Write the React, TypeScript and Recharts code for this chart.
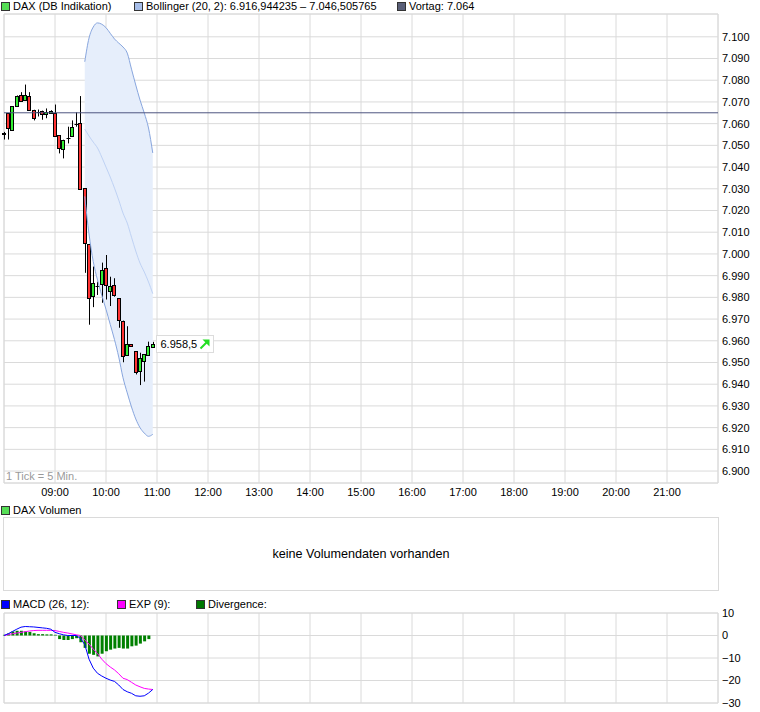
import React from "react";
import {
  ComposedChart,
  Bar,
  Line,
  Area,
  XAxis,
  YAxis,
  CartesianGrid,
  ReferenceLine,
  ReferenceDot,
  ReferenceArea,
} from "recharts";

const FONT = '"Liberation Sans", Arial, sans-serif';
const GRID = "#dadada";

// 5-minute candles, DAX (DB Indikation)
const TIMES = [
  "08:00", "08:05", "08:10", "08:15", "08:20", "08:25", "08:30", "08:35", "08:40",
  "08:45", "08:50", "08:55", "09:00", "09:05", "09:10", "09:15", "09:20", "09:25",
  "09:30", "09:35", "09:40", "09:45", "09:50", "09:55", "10:00", "10:05", "10:10",
  "10:15", "10:20", "10:25", "10:30", "10:35", "10:40", "10:45", "10:50", "10:55",
];
const OPEN = [
  7055.8, 7064.8, 7056.9, 7068.3, 7073.4, 7071.0, 7072.9, 7066.4, 7065.4,
  7065.7, 7064.2, 7065.0, 7064.8, 7054.6, 7048.5, 7053.6, 7054.1, 7059.8,
  7060.1, 7030.2, 7004.6, 6980.7, 6985.4, 6986.2, 6993.4, 6983.0, 6985.8,
  6979.7, 6969.3, 6953.7, 6958.3, 6955.2, 6946.0, 6950.6, 6953.7, 6957.2,
];
const HIGH = [
  7056.2, 7064.8, 7067.9, 7073.0, 7074.5, 7078.0, 7074.5, 7066.4, 7066.5,
  7066.0, 7067.0, 7066.2, 7068.8, 7054.6, 7052.6, 7058.6, 7061.5, 7065.2,
  7072.7, 7030.2, 7004.6, 6994.2, 6987.2, 6996.0, 6999.5, 6989.5, 6988.8,
  6979.7, 6969.3, 6966.7, 6958.3, 6955.2, 6954.5, 6953.7, 6959.6, 6959.5,
];
const LOW = [
  7052.7, 7052.7, 7056.9, 7068.3, 7070.6, 7071.0, 7066.4, 7061.5, 7063.3,
  7061.8, 7062.5, 7065.0, 7054.1, 7046.3, 7044.0, 7050.9, 7054.1, 7058.6,
  7029.7, 6991.3, 6967.4, 6975.5, 6981.1, 6977.5, 6979.0, 6976.0, 6980.3,
  6966.0, 6950.1, 6953.7, 6957.2, 6944.5, 6939.6, 6941.2, 6953.7, 6957.2,
];
const CLOSE = [
  7055.5, 7058.1, 7067.9, 7072.9, 7070.6, 7073.3, 7066.4, 7062.7, 7065.2,
  7064.5, 7065.3, 7066.0, 7054.1, 7048.5, 7052.6, 7053.4, 7058.4, 7059.6,
  7029.7, 7004.9, 6979.7, 6986.6, 6985.2, 6992.7, 6985.8, 6985.3, 6981.2,
  6969.7, 6953.2, 6958.6, 6957.2, 6945.3, 6952.1, 6953.7, 6957.8, 6958.5,
];

// Bollinger (20, 2), drawn from 09:35 on
const BB_FROM = "09:35";
const BB_UPPER = [
  7088.5, 7099.4, 7104.5, 7106.4, 7105.8, 7104.2, 7101.6, 7099.0, 7097.1,
  7095.3, 7092.5, 7085.1, 7077.8, 7070.9, 7064.9, 7058.0, 7046.5,
];
const BB_MIDDLE = [
  7057.5, 7054.3, 7051.5, 7048.8, 7044.6, 7040.0, 7035.4, 7030.3, 7024.8,
  7018.8, 7014.2, 7007.7, 7001.3, 6995.8, 6991.7, 6987.1, 6981.7,
];
const BB_LOWER = [
  7026.5, 7009.2, 6996.5, 6988.0, 6981.0, 6974.5, 6967.5, 6960.5, 6952.5,
  6943.0, 6936.0, 6929.5, 6924.0, 6920.0, 6917.5, 6916.0, 6916.9,
];

const VORTAG = 7065;
const VORTAG_LABEL = "7.064";
const BB_LABEL = "6.916,944235 – 7.046,505765";

// MACD (26, 12), EXP (9), Divergence
const MACD = [
  0.0, 0.8, 1.8, 2.8, 3.7, 4.0, 3.9, 3.8, 3.6,
  3.4, 3.2, 2.8, 1.4, 0.8, 0.3, 0.0, 0.0, 0.0,
  -1.3, -4.0, -10.5, -14.5, -16.8, -18.0, -19.0, -19.8, -20.4,
  -22.0, -24.0, -25.0, -25.7, -26.8, -27.0, -26.8, -25.6, -24.0,
];
const EXP = [
  0.0, 0.4, 0.8, 1.1, 1.4, 1.7, 2.0, 2.2, 2.3,
  2.3, 2.3, 2.3, 2.2, 1.8, 1.4, 1.1, 0.7, 0.3,
  0.0, -2.0, -3.8, -6.0, -8.0, -10.5, -12.5, -14.0, -15.3,
  -17.0, -19.0, -19.6, -20.8, -22.0, -22.8, -23.5, -23.8, -24.0,
];
const DIVERGENCE = [
  0.3, 0.9, 1.8, 2.1, 2.1, 1.8, 1.6, 1.0, 0.6,
  0.6, 0.5, 0.5, 0.3, -1.6, -2.0, -2.0, -1.6, -1.2,
  -3.0, -5.5, -8.1, -8.6, -9.3, -8.1, -7.0, -6.3, -5.8,
  -5.5, -5.8, -5.8, -4.8, -4.5, -3.6, -2.6, -1.6, 0,
];

const HOURS = [480, 540, 600, 660, 720, 780, 840, 900, 960, 1020, 1080, 1140, 1200, 1260, 1320];
const PRICE_TICKS = [
  6900, 6910, 6920, 6930, 6940, 6950, 6960, 6970, 6980, 6990, 7000,
  7010, 7020, 7030, 7040, 7050, 7060, 7070, 7080, 7090, 7100,
];
const PRICE_DOMAIN = [6894.5, 7110.5];
const MACD_TICKS = [-30, -20, -10, 0, 10];
const MACD_DOMAIN = [-30, 10];

const toMin = (s: string) => {
  const [h, m] = s.split(":").map(Number);
  return h * 60 + m;
};

const fmtPrice = (v: number, dec = 0) => {
  const [int, frac] = v.toFixed(dec).split(".");
  const withDots = int.replace(/\B(?=(\d{3})+(?!\d))/g, ".");
  return frac ? `${withDots},${frac}` : withDots;
};

const fmtHour = (v: number) =>
  v === HOURS[0] || v === HOURS[HOURS.length - 1]
    ? ""
    : `${String(Math.floor(v / 60)).padStart(2, "0")}:00`;

const bbStart = TIMES.indexOf(BB_FROM);

const rows = TIMES.map((time, i) => {
  const b = i - bbStart;
  const hasBB = b >= 0;
  return {
    t: toMin(time),
    open: OPEN[i],
    high: HIGH[i],
    low: LOW[i],
    close: CLOSE[i],
    range: [LOW[i], HIGH[i]],
    band: hasBB ? [BB_LOWER[b], BB_UPPER[b]] : null,
    upper: hasBB ? BB_UPPER[b] : null,
    middle: hasBB ? BB_MIDDLE[b] : null,
    lower: hasBB ? BB_LOWER[b] : null,
    macd: MACD[i],
    exp: EXP[i],
    div: DIVERGENCE[i],
  };
});

const last = rows[rows.length - 1];

function Candle(props: any) {
  const { x, y, width, height, payload } = props;
  if (x == null || y == null || height == null) return null;
  const { open, close, high, low } = payload;
  const top = Math.min(y, y + height);
  const h = Math.abs(height);
  const k = h / (high - low || 1);
  const py = (v: number) => top + (high - v) * k;
  const cx = Math.round(x + width / 2) + 0.5;
  const yo = py(open);
  const yc = py(close);
  const up = close >= open;
  const bodyTop = Math.round(Math.min(yo, yc)) + 0.5;
  const bodyH = Math.round(Math.abs(yc - yo));
  return (
    <g>
      <line x1={cx} x2={cx} y1={top} y2={top + h} stroke="#000" strokeWidth={1} />
      {bodyH < 1 ? (
        <line x1={cx - 2} x2={cx + 2} y1={bodyTop} y2={bodyTop} stroke="#000" />
      ) : (
        <rect
          x={cx - 2}
          y={bodyTop}
          width={3}
          height={bodyH}
          fill={up ? "#33ee33" : "#ff3333"}
          stroke="#000"
          strokeWidth={1}
        />
      )}
    </g>
  );
}

function PriceTag(props: any) {
  const { cx, cy } = props;
  if (cx == null || cy == null) return null;
  const x0 = Math.round(cx) + 3.5;
  const y0 = Math.round(cy) - 8.5;
  return (
    <g>
      <rect x={x0} y={y0} width={57} height={17} fill="#fff" stroke="#dcdcdc" />
      <text x={x0 + 4} y={y0 + 12.5} fontSize={11} fontFamily={FONT} fill="#000">
        {fmtPrice(last.close, 1)}
      </text>
      <path
        d={`M${x0 + 44} ${y0 + 13} L${x0 + 51} ${y0 + 6}`}
        stroke="#22dd22"
        strokeWidth={2}
      />
      <path
        d={`M${x0 + 46} ${y0 + 4} L${x0 + 53} ${y0 + 4} L${x0 + 53} ${y0 + 11} Z`}
        fill="#22dd22"
      />
    </g>
  );
}

function Swatch({ color }: { color: string }) {
  return (
    <span
      style={{
        display: "inline-block",
        width: 7,
        height: 7,
        background: color,
        border: "1px solid #333",
        marginRight: 3,
        verticalAlign: "-1px",
      }}
    />
  );
}

function LegendItem({ left, top, color, text }: { left: number; top: number; color: string; text: string }) {
  return (
    <div style={{ position: "absolute", left, top, fontSize: 11, lineHeight: "12px", whiteSpace: "nowrap" }}>
      <Swatch color={color} />
      {text}
    </div>
  );
}

const tickStyle = { fill: "#000", fontSize: 11, fontFamily: FONT };

export default function App() {
  return (
    <div
      style={{
        position: "absolute",
        left: 0,
        top: 0,
        width: 760,
        height: 712,
        background: "#fff",
        fontFamily: FONT,
        color: "#000",
        overflow: "hidden",
      }}
    >
      <LegendItem left={1} top={0} color="#55dd55" text="DAX (DB Indikation)" />
      <LegendItem left={134} top={0} color="#a6bde8" text={`Bollinger (20, 2): ${BB_LABEL}`} />
      <LegendItem left={397} top={0} color="#5a5f78" text={`Vortag: ${VORTAG_LABEL}`} />

      <div style={{ position: "absolute", left: 0, top: 0 }}>
        <ComposedChart width={760} height={505} data={rows} margin={{ top: 14, right: 0, bottom: 0, left: 4 }}>
          <CartesianGrid stroke={GRID} />
          <ReferenceArea
            x1={HOURS[0]}
            x2={HOURS[HOURS.length - 1]}
            y1={PRICE_DOMAIN[0]}
            y2={PRICE_DOMAIN[1]}
            fill="none"
            stroke={GRID}
            fillOpacity={0}
          />
          <XAxis
            type="number"
            dataKey="t"
            domain={[HOURS[0], HOURS[HOURS.length - 1]]}
            ticks={HOURS}
            interval={0}
            tickFormatter={fmtHour}
            axisLine={false}
            tickLine={false}
            tickSize={3}
            tickMargin={2}
            height={22}
            tick={tickStyle}
          />
          <YAxis
            orientation="right"
            domain={PRICE_DOMAIN}
            ticks={PRICE_TICKS}
            interval={0}
            allowDataOverflow
            tickFormatter={(v: number) => fmtPrice(v)}
            axisLine={false}
            tickLine={false}
            tickSize={2}
            tickMargin={2}
            width={42}
            tick={tickStyle}
          />
          <Area
            dataKey="band"
            type="monotone"
            stroke="none"
            fill="#e6eefb"
            fillOpacity={1}
            isAnimationActive={false}
            connectNulls={false}
          />
          <Line dataKey="middle" type="monotone" stroke="#bfd2f4" dot={false} strokeWidth={1} isAnimationActive={false} />
          <Line dataKey="upper" type="monotone" stroke="#88a6de" dot={false} strokeWidth={1} isAnimationActive={false} />
          <Line dataKey="lower" type="monotone" stroke="#88a6de" dot={false} strokeWidth={1} isAnimationActive={false} />
          <ReferenceLine y={VORTAG} stroke="#4e5680" strokeWidth={1} />
          <Bar dataKey="range" barSize={4} shape={<Candle />} isAnimationActive={false} />
          <ReferenceDot x={last.t} y={last.close} r={0} shape={<PriceTag />} />
        </ComposedChart>
      </div>
      <div style={{ position: "absolute", left: 6, top: 470, fontSize: 11, lineHeight: "12px", color: "#9a9a9a" }}>
        1 Tick = 5 Min.
      </div>

      <LegendItem left={1} top={504} color="#55dd55" text="DAX Volumen" />
      <div
        style={{
          position: "absolute",
          left: 3,
          top: 517,
          width: 716,
          height: 74,
          boxSizing: "border-box",
          border: `1px solid ${GRID}`,
          display: "flex",
          alignItems: "center",
          justifyContent: "center",
          fontSize: 12.6,
        }}
      >
        keine Volumendaten vorhanden
      </div>

      <LegendItem left={1} top={598} color="#0000ff" text="MACD (26, 12):" />
      <LegendItem left={117} top={598} color="#ff00ff" text="EXP (9):" />
      <LegendItem left={196} top={598} color="#007700" text="Divergence:" />

      <div style={{ position: "absolute", left: 0, top: 608 }}>
        <ComposedChart width={760} height={104} data={rows} margin={{ top: 5, right: 0, bottom: 9, left: 4 }}>
          <CartesianGrid stroke={GRID} />
          <ReferenceArea
            x1={HOURS[0]}
            x2={HOURS[HOURS.length - 1]}
            y1={MACD_DOMAIN[0]}
            y2={MACD_DOMAIN[1]}
            fill="none"
            stroke={GRID}
            fillOpacity={0}
          />
          <XAxis
            type="number"
            dataKey="t"
            domain={[HOURS[0], HOURS[HOURS.length - 1]]}
            ticks={HOURS}
            interval={0}
            hide
          />
          <YAxis
            orientation="right"
            domain={MACD_DOMAIN}
            ticks={MACD_TICKS}
            interval={0}
            allowDataOverflow
            tickFormatter={(v: number) => (v < 0 ? `−${Math.abs(v)}` : `${v}`)}
            axisLine={false}
            tickLine={false}
            tickSize={2}
            tickMargin={2}
            width={42}
            tick={tickStyle}
          />
          <Bar dataKey="div" fill="#008000" barSize={3} isAnimationActive={false} />
          <Line dataKey="exp" type="linear" stroke="#ff00ff" dot={false} strokeWidth={1} isAnimationActive={false} />
          <Line dataKey="macd" type="linear" stroke="#0000ff" dot={false} strokeWidth={1} isAnimationActive={false} />
        </ComposedChart>
      </div>
    </div>
  );
}
